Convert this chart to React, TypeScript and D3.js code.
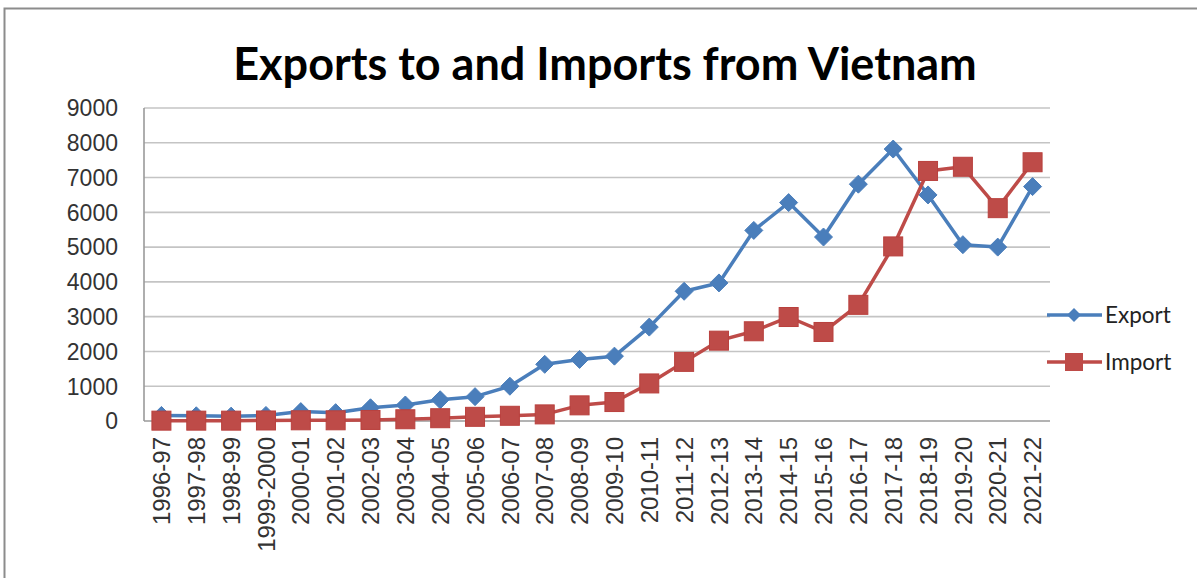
import React from 'react';
import * as d3 from 'd3';

const years = [
  '1996-97', '1997-98', '1998-99', '1999-2000', '2000-01', '2001-02', '2002-03',
  '2003-04', '2004-05', '2005-06', '2006-07', '2007-08', '2008-09', '2009-10',
  '2010-11', '2011-12', '2012-13', '2013-14', '2014-15', '2015-16', '2016-17',
  '2017-18', '2018-19', '2019-20', '2020-21', '2021-22'
];
const exportValues = [
  160, 150, 140, 160, 270, 240, 380, 460, 610, 700, 1000, 1630, 1770, 1865,
  2700, 3730, 3970, 5480, 6280, 5290, 6810, 7820, 6500, 5070, 5000, 6740
];
const importValues = [
  10, 10, 10, 15, 20, 20, 30, 50, 80, 120, 150, 190, 450, 545,
  1080, 1700, 2310, 2580, 2990, 2560, 3340, 5020, 7190, 7310, 6120, 7440
];
const yTicks = [0, 1000, 2000, 3000, 4000, 5000, 6000, 7000, 8000, 9000];

const W = 1197;
const H = 578;
const plot = { left: 144, right: 1050, top: 108, bottom: 421 };
const blue = '#4a7ebb';
const red = '#be4b48';

const App = () => {
  const x = d3.scalePoint<string>().domain(years).range([plot.left, plot.right]).padding(0.5);
  const y = d3.scaleLinear().domain([0, 9000]).range([plot.bottom, plot.top]);

  const line = d3
    .line<number>()
    .x((_, i) => x(years[i]) as number)
    .y((d) => y(d));

  const diamond = (cx: number, cy: number, r: number) =>
    `M${cx},${cy - r}L${cx + r},${cy}L${cx},${cy + r}L${cx - r},${cy}Z`;

  return (
    <div style={{ position: 'absolute', left: 0, top: 0 }}>
      <svg width={W} height={H} style={{ display: 'block', background: '#fff' }}>
        {/* chart border */}
        <rect x={4.5} y={8.5} width={W + 20} height={H + 20} fill="none" stroke="#8c8c8c" strokeWidth={2} />

        <text
          x={605}
          y={80}
          textAnchor="middle"
          fontFamily="Lato, 'Open Sans', sans-serif"
          fontWeight="bold"
          fontSize={45}
          fill="#000"
        >
          Exports to and Imports from Vietnam
        </text>

        {/* gridlines */}
        {yTicks.map((t) => (
          <line
            key={t}
            x1={plot.left}
            x2={plot.right}
            y1={y(t)}
            y2={y(t)}
            stroke={t === 0 ? '#9a9a9a' : '#c4c4c4'}
            strokeWidth={1.6}
          />
        ))}
        <line x1={plot.left} x2={plot.left} y1={plot.top} y2={plot.bottom} stroke="#9a9a9a" strokeWidth={1.6} />

        {/* y tick labels */}
        {yTicks.map((t) => (
          <text
            key={t}
            x={118}
            y={y(t)}
            dy="0.36em"
            textAnchor="end"
            fontFamily="'Liberation Sans', Arial, sans-serif"
            fontSize={23}
            fill="#333"
          >
            {t}
          </text>
        ))}

        {/* x tick labels */}
        {years.map((yr) => (
          <text
            key={yr}
            transform={`translate(${x(yr)},437) rotate(-90)`}
            dy="0.36em"
            textAnchor="end"
            fontFamily="'Liberation Sans', Arial, sans-serif"
            fontSize={24}
            fill="#333"
          >
            {yr}
          </text>
        ))}

        {/* export series */}
        <path d={line(exportValues) || ''} fill="none" stroke={blue} strokeWidth={3.5} strokeLinejoin="round" />
        {exportValues.map((v, i) => (
          <path key={i} d={diamond(x(years[i]) as number, y(v), 9)} fill={blue} stroke={blue} strokeWidth={1} />
        ))}

        {/* import series */}
        <path d={line(importValues) || ''} fill="none" stroke={red} strokeWidth={3.5} strokeLinejoin="round" />
        {importValues.map((v, i) => (
          <rect
            key={i}
            x={(x(years[i]) as number) - 9.5}
            y={y(v) - 9.5}
            width={19}
            height={19}
            fill={red}
            stroke="#b9403d"
            strokeWidth={1}
          />
        ))}

        {/* legend */}
        <g fontFamily="Lato, 'Open Sans', sans-serif" fontSize={22.5} fill="#222">
          <line x1={1047} x2={1102} y1={315} y2={315} stroke={blue} strokeWidth={3.5} />
          <path d={diamond(1074, 315, 7)} fill={blue} />
          <text x={1105} y={315} dy="0.35em">Export</text>
          <line x1={1047} x2={1102} y1={362} y2={362} stroke={red} strokeWidth={3.5} />
          <rect x={1065} y={353} width={18} height={18} fill={red} />
          <text x={1105} y={362} dy="0.35em">Import</text>
        </g>
      </svg>
    </div>
  );
};

export default App;
